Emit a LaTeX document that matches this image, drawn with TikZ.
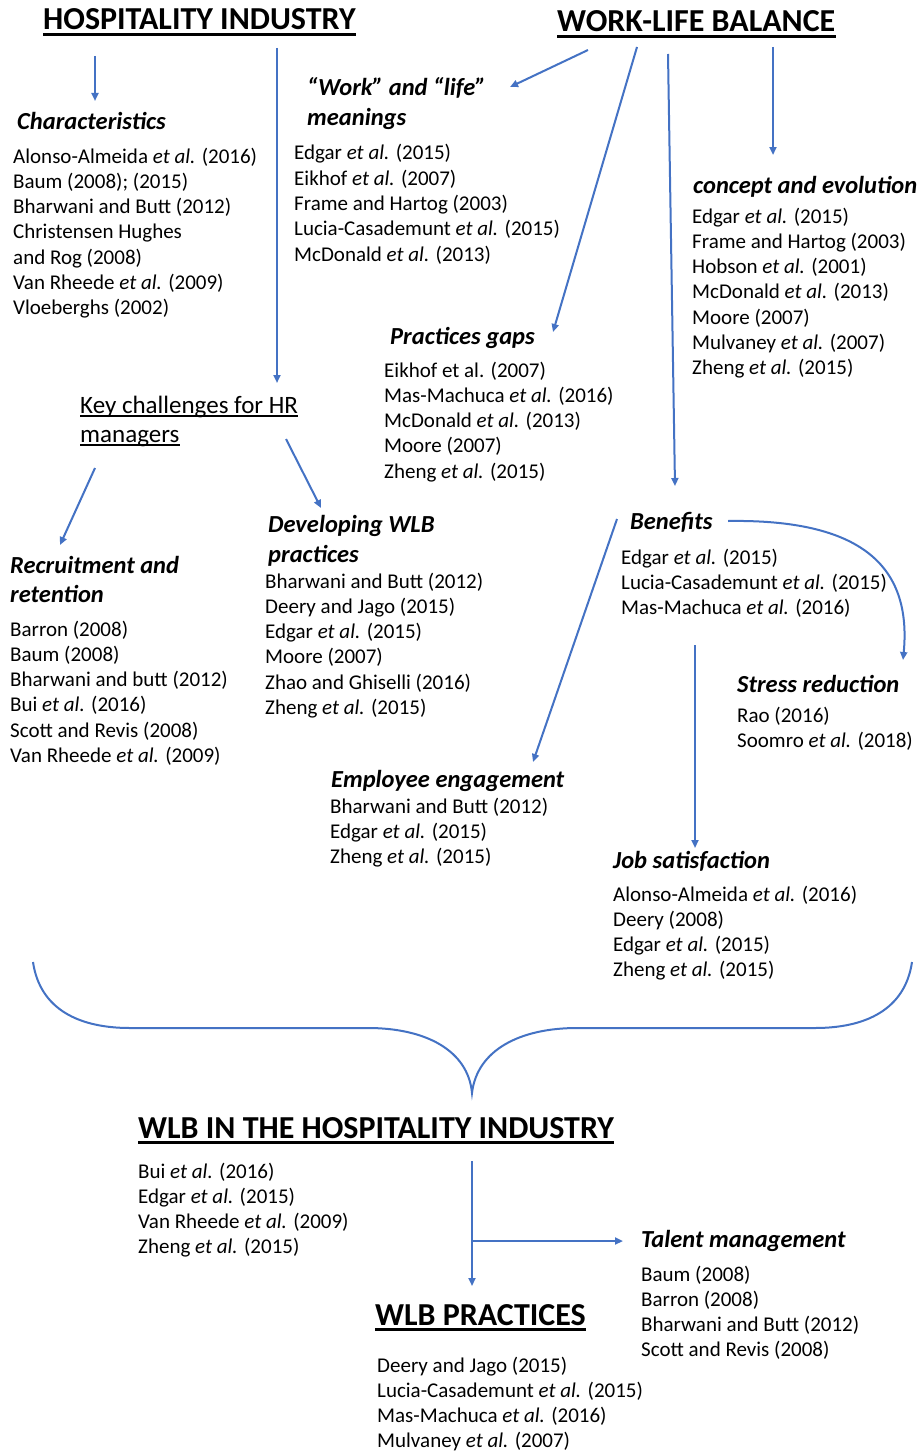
\documentclass[tikz,border=0pt]{standalone}
\usepackage{fontspec}
\setmainfont{Carlito}
\usetikzlibrary{arrows.meta}
\definecolor{arr}{RGB}{68,114,196}
\newcommand\reflines[4]{\foreach \t [count=\i from 0] in {#4}{\node[ref] (#3-\i) at (#1,{#2+25.3*\i}) {\t};}}
\begin{document}
\begin{tikzpicture}[x=1pt,y=-1pt,
 conn/.style={draw=arr, line width=2pt, -{Triangle[length=8pt,width=7pt]}},
 plainline/.style={draw=arr, line width=2pt},
 ref/.style={inner sep=0pt, anchor=base west, font=\fontsize{21}{25}\selectfont},
 head/.style={inner sep=0pt, anchor=base west, font=\fontsize{32}{38}\selectfont\bfseries},
 sub/.style={inner sep=0pt, anchor=base west, font=\fontsize{24.5}{29}\selectfont\bfseries\itshape},
 keyt/.style={inner sep=0pt, anchor=base west, font=\fontsize{25}{29}\selectfont},
 ul/.style={line width=3pt, black},
 ulthin/.style={line width=2pt, black}]
\useasboundingbox[fill=white] (0,0) rectangle (923,1453);

% main headings
\node[head] (hi) at (43,30) {HOSPITALITY INDUSTRY};
\node[head] (wlb) at (557,32) {WORK-LIFE BALANCE};
\node[head] (wlbhi) at (138,1138) {WLB IN THE HOSPITALITY INDUSTRY};
\node[head] (prac) at (375,1325) {WLB PRACTICES};
\foreach \n in {hi,wlb,wlbhi,prac}{\draw[ul] ([yshift=-4.5pt]\n.base west) -- ([yshift=-4.5pt]\n.base east);}

% sub headings
\node[sub] (char) at (17,130) {Characteristics};
\node[sub] (wl1) at (307,96) {“Work” and “life”};
\node[sub] (wl2) at (307,126) {meanings};
\node[sub] (conc) at (693,193) {concept and evolution};
\node[sub] (gaps) at (390,344) {Practices gaps};
\node[keyt] (kc1) at (80,413) {Key challenges for HR};
\node[keyt] (kc2) at (80,442) {managers};
\draw[ulthin] ([yshift=-3pt]kc1.base west) -- ([yshift=-3pt]kc1.base east);
\draw[ulthin] ([yshift=-3pt]kc2.base west) -- ([yshift=-3pt]kc2.base east);
\node[sub] (dev1) at (268,532) {Developing WLB};
\node[sub] (dev2) at (268,562) {practices};
\node[sub] (rec1) at (10,573) {Recruitment and};
\node[sub] (rec2) at (10,602) {retention};
\node[sub] (ben) at (630,529) {Benefits};
\node[sub] (stress) at (737,692) {Stress reduction};
\node[sub] (emp) at (331,787) {Employee engagement};
\node[sub] (job) at (613,868) {Job satisfaction};
\node[sub] (tal) at (641,1247) {Talent management};

% reference lists
\reflines{13}{163}{charl}{Alonso-Almeida \textit{et al.} (2016),Baum (2008); (2015),Bharwani and Butt (2012),Christensen Hughes,and Rog (2008),Van Rheede \textit{et al.} (2009),Vloeberghs (2002)}
\reflines{294}{160}{wll}{Edgar \textit{et al.} (2015),Eikhof \textit{et al.} (2007),Frame and Hartog (2003),Lucia-Casademunt \textit{et al.} (2015),McDonald \textit{et al.} (2013)}
\reflines{692}{223}{concl}{Edgar \textit{et al.} (2015),Frame and Hartog (2003),Hobson \textit{et al.} (2001),McDonald \textit{et al.} (2013),Moore (2007),Mulvaney \textit{et al.} (2007),Zheng \textit{et al.} (2015)}
\reflines{384}{377}{gapsl}{Eikhof et al. (2007),Mas-Machuca \textit{et al.} (2016),McDonald \textit{et al.} (2013),Moore (2007),Zheng \textit{et al.} (2015)}
\reflines{265}{588}{devl}{Bharwani and Butt (2012),Deery and Jago (2015),Edgar \textit{et al.} (2015),Moore (2007),Zhao and Ghiselli (2016),Zheng \textit{et al.} (2015)}
\reflines{10}{636}{recl}{Barron (2008),Baum (2008),Bharwani and butt (2012),Bui \textit{et al.} (2016),Scott and Revis (2008),Van Rheede \textit{et al.} (2009)}
\reflines{621}{564}{benl}{Edgar \textit{et al.} (2015),Lucia-Casademunt \textit{et al.} (2015),Mas-Machuca \textit{et al.} (2016)}
\reflines{737}{722}{strl}{Rao (2016),Soomro \textit{et al.} (2018)}
\reflines{330}{813}{empl}{Bharwani and Butt (2012),Edgar \textit{et al.} (2015),Zheng \textit{et al.} (2015)}
\reflines{613}{901}{jobl}{Alonso-Almeida \textit{et al.} (2016),Deery (2008),Edgar \textit{et al.} (2015),Zheng \textit{et al.} (2015)}
\reflines{138}{1178}{wlbhil}{Bui \textit{et al.} (2016),Edgar \textit{et al.} (2015),Van Rheede \textit{et al.} (2009),Zheng \textit{et al.} (2015)}
\reflines{641}{1281}{tall}{Baum (2008),Barron (2008),Bharwani and Butt (2012),Scott and Revis (2008)}
\reflines{377}{1372}{pracl}{Deery and Jago (2015),Lucia-Casademunt \textit{et al.} (2015),Mas-Machuca \textit{et al.} (2016),Mulvaney \textit{et al.} (2007)}

% connector end points
\coordinate (a1s) at (95,56);   \coordinate (a1e) at (95,101);
\coordinate (a2s) at (277,48);  \coordinate (a2e) at (277,383);
\coordinate (a3s) at (588,50);  \coordinate (a3e) at (510,87);
\coordinate (a4s) at (637,47);  \coordinate (a4e) at (553,332);
\coordinate (a5s) at (668,54);  \coordinate (a5e) at (675,486);
\coordinate (a6s) at (773,47);  \coordinate (a6e) at (773,155);
\coordinate (a7s) at (95,468);  \coordinate (a7e) at (60,545);
\coordinate (a8s) at (286,439); \coordinate (a8e) at (321,508);
\coordinate (a9s) at (617,519); \coordinate (a9e) at (533,762);
\coordinate (a10s) at (728,521); \coordinate (a10e) at (903,660);
\coordinate (a11s) at (695,645); \coordinate (a11e) at (695,848);
\coordinate (a12s) at (472,1161); \coordinate (a12e) at (472,1286);
\coordinate (a13s) at (472,1241); \coordinate (a13e) at (623,1241);
\coordinate (brL) at (33,962); \coordinate (brT) at (472,1093); \coordinate (brR) at (912,962);

\draw[conn] (a1s) -- (a1e);
\draw[conn] (a2s) -- (a2e);
\draw[conn] (a3s) -- (a3e);
\draw[conn] (a4s) -- (a4e);
\draw[conn] (a5s) -- (a5e);
\draw[conn] (a6s) -- (a6e);
\draw[conn] (a7s) -- (a7e);
\draw[conn] (a8s) -- (a8e);
\draw[conn] (a9s) -- (a9e);
\draw[conn] (a10s) .. controls (860,519) and (912,565) .. (a10e);
\draw[conn] (a11s) -- (a11e);
\draw[conn] (a12s) -- (a12e);
\draw[conn] (a13s) -- (a13e);

% brace
\draw[plainline] (brL) .. controls (40,1010) and (80,1028) .. (130,1028) -- (368,1028)
  .. controls (425,1028) and (468,1050) .. (brT)
  .. controls (477,1050) and (520,1028) .. (577,1028) -- (815,1028)
  .. controls (865,1028) and (905,1010) .. (brR);
\end{tikzpicture}
\end{document}
